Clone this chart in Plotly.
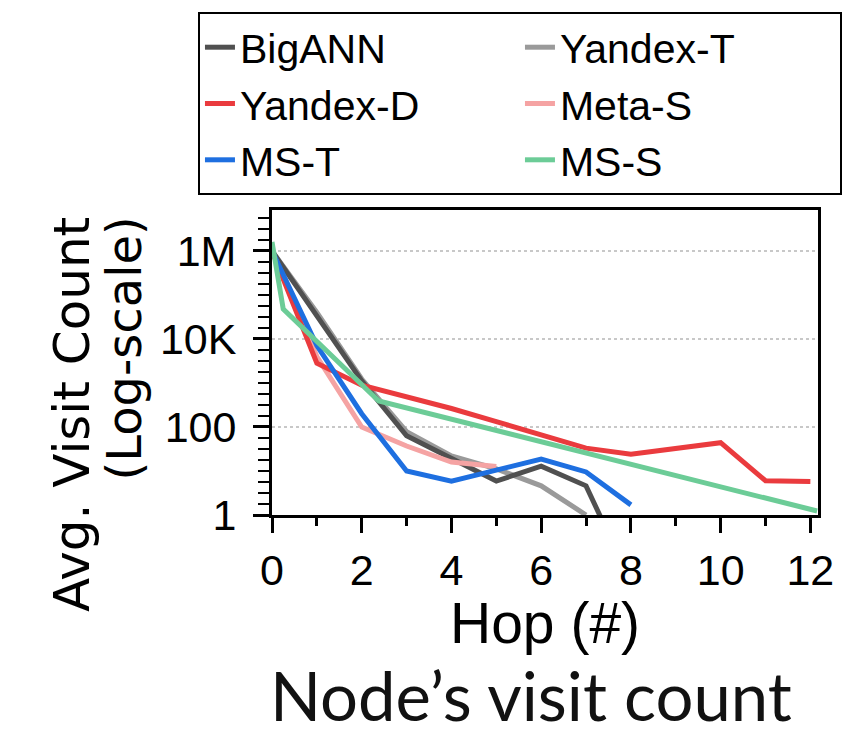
import plotly.graph_objects as go

# ---------------- data ----------------
hops_bigann = [0, 1, 2, 3, 4, 5, 6, 7, 8]
bigann = [1000000, 31600, 1120, 63, 18.6, 5.9, 12.9, 4.6, 0.03]

hops_yandex_t = [0, 1, 2, 3, 4, 5, 6, 7]
yandex_t = [1000000, 39800, 1230, 78, 21.9, 11.2, 4.6, 1.0]

hops_yandex_d = [0, 1, 2, 3, 4, 5, 6, 7, 8, 9, 10, 11, 12]
yandex_d = [1000000, 2800, 890, 500, 263, 132, 66, 33, 24, 32, 44, 6.0, 5.8]

hops_meta_s = [0, 1, 2, 3, 4, 5]
meta_s = [1000000, 4000, 100, 37, 16, 12.6]

hops_ms_t = [0, 1, 2, 3, 4, 5, 6, 7, 8]
ms_t = [1000000, 7100, 200, 10, 5.9, 10.5, 18.6, 9.5, 1.7]

hops_ms_s = [0, 0.25, 2.38, 12.15]
ms_s = [1600000, 48000, 390, 1.23]

y_tickvals = [1, 100, 10000, 1000000]
y_ticktext = ["1", "100", "10K", "1M"]
x_tickvals = [0, 2, 4, 6, 8, 10, 12]

# ---------------- style ----------------
REG = "Liberation Sans, Arial, sans-serif"
LW = 5

series = [
    # (name, x, y, color, legendrank) in drawing order
    ("Yandex-T", hops_yandex_t, yandex_t, "#9a9a9a", 2),
    ("BigANN", hops_bigann, bigann, "#505050", 1),
    ("Meta-S", hops_meta_s, meta_s, "#f5a3a3", 4),
    ("Yandex-D", hops_yandex_d, yandex_d, "#ea3b3e", 3),
    ("MS-T", hops_ms_t, ms_t, "#1e6fe0", 5),
    ("MS-S", hops_ms_s, ms_s, "#6ccc97", 6),
]

fig = go.Figure()
for name, xs, ys, col, rank in series:
    fig.add_trace(go.Scatter(
        x=xs, y=ys, mode="lines", name=name,
        line=dict(color=col, width=LW),
        legendrank=rank,
    ))

fig.update_layout(
    width=846, height=735,
    margin=dict(l=272, r=21, t=210, b=220),
    paper_bgcolor="white", plot_bgcolor="white",
    showlegend=True,
    legend=dict(
        orientation="h",
        x=-0.1356, y=1.649, xanchor="left", yanchor="top",
        bordercolor="black", borderwidth=2, bgcolor="white",
        font=dict(family=REG, size=41, color="black"),
        entrywidth=275, entrywidthmode="pixels",
        traceorder="normal",
    ),
    xaxis=dict(
        range=[0, 12.17], tickvals=x_tickvals,
        ticks="outside", ticklen=15, tickwidth=3, tickcolor="black",
        showline=True, linewidth=3, linecolor="black", mirror=True,
        showgrid=False, zeroline=False,
        tickfont=dict(family=REG, size=43, color="black"),
        minor=dict(dtick=1, tick0=1, ticks="outside", ticklen=8,
                   tickwidth=3, tickcolor="black", showgrid=False),
    ),
    yaxis=dict(
        type="log", range=[0, 6.93],
        tickvals=y_tickvals, ticktext=y_ticktext,
        ticks="outside", ticklen=16, tickwidth=3, tickcolor="black",
        ticklabelstandoff=8,
        showline=True, linewidth=3, linecolor="black", mirror=True,
        showgrid=True, gridcolor="#c8c8c8", gridwidth=1.5, griddash="dot",
        zeroline=False,
        tickfont=dict(family=REG, size=43, color="black"),
        minor=dict(dtick=0.25, tick0=0, ticks="outside", ticklen=11,
                   tickwidth=2, tickcolor="black", showgrid=False),
    ),
    annotations=[
        dict(text="Avg. Visit Count", textangle=-90, showarrow=False,
             xref="paper", yref="paper", x=-0.365, y=0.984,
             xanchor="center", yanchor="top",
             font=dict(family="DejaVu Sans, " + REG, size=50, color="black")),
        dict(text="(Log-scale)", textangle=-90, showarrow=False,
             xref="paper", yref="paper", x=-0.272, y=0.987,
             xanchor="center", yanchor="top",
             font=dict(family="DejaVu Sans, " + REG, size=48, color="black")),
        dict(text="Hop (#)", showarrow=False,
             xref="paper", yref="paper", x=0.5, y=-0.355,
             xanchor="center", yanchor="middle",
             font=dict(family=REG, size=57, color="black")),
        dict(text="Node\u2019s visit count", showarrow=False,
             xref="paper", yref="paper", x=0.475, y=-0.59,
             xanchor="center", yanchor="middle",
             font=dict(family="Lato, Open Sans, sans-serif", size=67, color="#111111")),
    ],
)

fig.write_html("out.html")
